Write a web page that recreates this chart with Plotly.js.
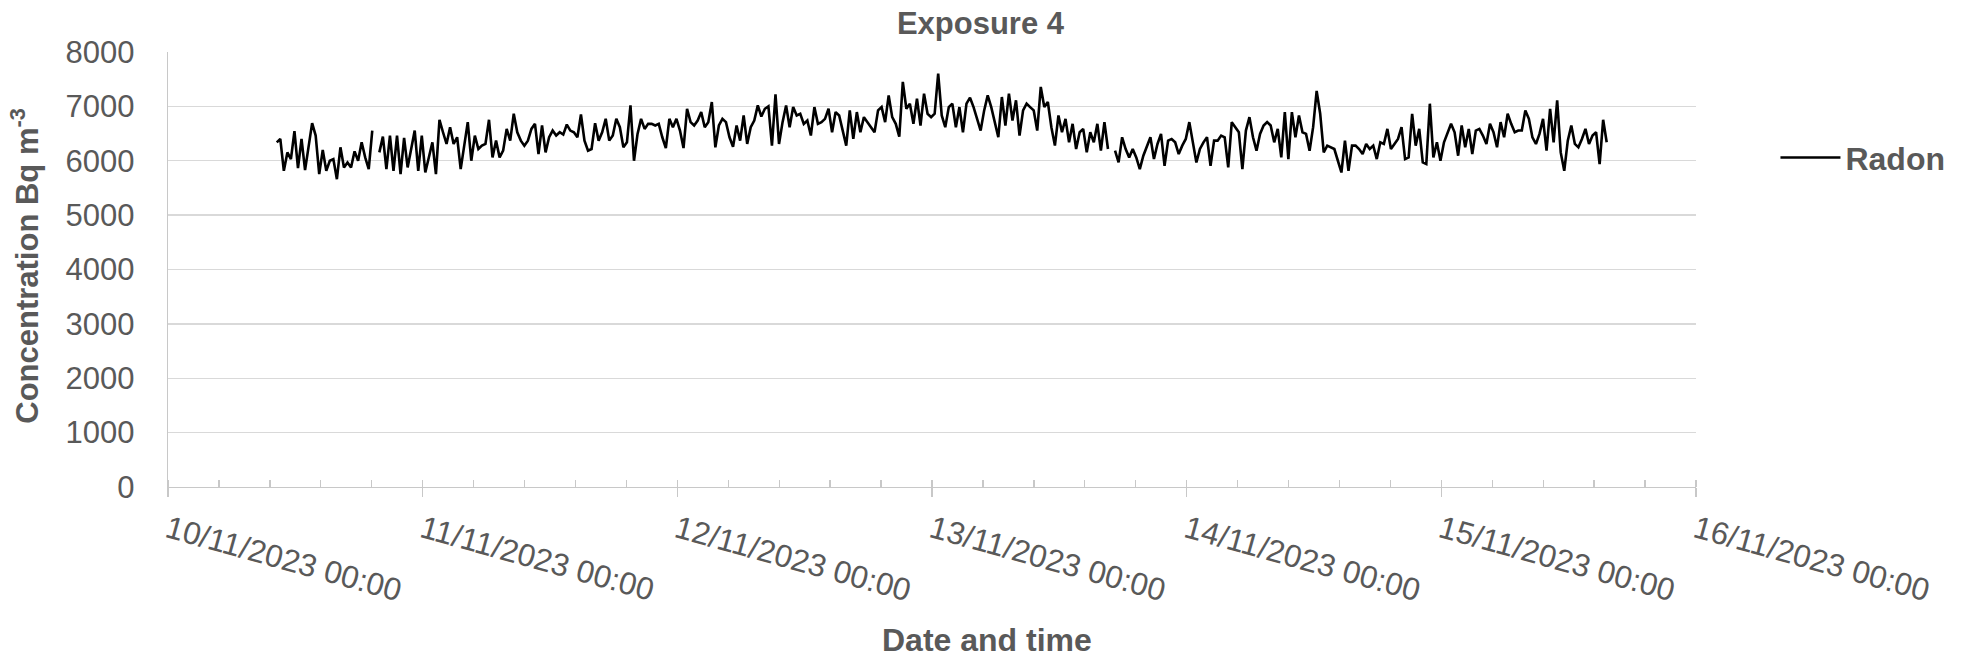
<!DOCTYPE html>
<html>
<head>
<meta charset="utf-8">
<script src="https://cdn.plot.ly/plotly-3.0.1.min.js"></script>
<style>
  html, body { margin: 0; padding: 0; background: #ffffff; }
  #chart { width: 1966px; height: 658px; }
</style>
</head>
<body>
<div id="chart"></div>
<script>
// ---- Data ----
const seriesName = 'Radon';
const startTime = '2023-11-10T10:15:00';   // first reading
const stepMinutes = 20;                    // sampling interval used for the readings
// Radon concentration, Bq m-3 (null = missing reading)
const radon = [
  6339, 6401, 5815, 6154, 6031, 6543, 5864, 6401, 5827, 6247,
  6691, 6463, 5753, 6197, 5815, 6000, 6031, 5661, 6247, 5877,
  5969, 5877, 6173, 6000, 6339, 6062, 5846, 6555, null, 6154,
  6444, 5846, 6463, 5815, 6463, 5753, 6420, 5877, 6185, 6555,
  5815, 6463, 5784, 6062, 6339, 5753, 6753, 6524, 6309, 6617,
  6309, 6432, 5846, 6278, 6710, 6000, 6463, 6216, 6278, 6309,
  6753, 6062, 6370, 6062,
  6185, 6586, 6370, 6864, 6524, 6370, 6278, 6370, 6586, 6679,
  6123, 6648, 6154, 6432, 6555, 6463, 6524, 6481, 6666, 6555,
  6524, 6432, 6851, 6370, 6185, 6216, 6691, 6370, 6524, 6771,
  6370, 6463, 6771, 6617, 6247, 6339, 7018, 6000, 6494, 6771,
  6586, 6679, 6679, 6648, 6679, 6432, 6234, 6771, 6617, 6771,
  6555, 6234, 6956, 6710, 6648, 6740, 6895, 6617, 6710, 7080,
  6247, 6648,
  6771, 6710, 6432, 6259, 6648, 6370, 6833, 6309, 6617, 6740,
  7018, 6814, 6956, 7000, 6278, 7222, 6309, 6710, 7018, 6617,
  6987, 6833, 6864, 6679, 6740, 6463, 6987, 6679, 6710, 6771,
  6956, 6524, 6895, 6833, 6555, 6278, 6926, 6401, 6895, 6524,
  6802, 6710, 6617, 6524, 6926, 6987, 6710, 7203, 6802, 6679,
  6444, 7450, 6956, 7049, 6679, 7141, 6648, 7234, 6864, 6802,
  6864, 7604,
  6833, 6617, 6987, 7049, 6617, 6987, 6524, 7049, 7160, 6987,
  6771, 6555, 6926, 7203, 6987, 6710, 6432, 7172, 6648, 7234,
  6740, 7111, 6463, 6926, 7049, 6987, 6926, 6555, 7357, 6987,
  7080, 6617, 6278, 6833, 6524, 6771, 6339, 6679, 6216, 6524,
  6586, 6154, 6524, 6339, 6679, 6185, 6710, 6216, null, 6185,
  5969, 6432, 6216, 6062, 6216, 6062, 5846, 6093, 6247, 6432,
  6031, 6309,
  6494, 5907, 6370, 6401, 6339, 6123, 6278, 6401, 6710, 6370,
  5969, 6216, 6339, 6432, 5907, 6370, 6370, 6463, 6432, 5877,
  6710, 6617, 6524, 5846, 6555, 6802, 6432, 6185, 6494, 6648,
  6710, 6648, 6339, 6586, 6062, 6895, 6031, 6895, 6432, 6833,
  6524, 6494, 6185, 6617, 7283, 6864, 6154, 6278, 6247, 6216,
  6000, 5784, 6370, 5815, 6278, 6278, 6216, 6123, 6309, 6216,
  6278, 6031, 6339,
  6309, 6586, 6216, 6309, 6401, 6617, 6031, 6062, 6864, 6278,
  6586, 5969, 5938, 7049, 6062, 6339, 6000, 6339, 6494, 6679,
  6524, 6093, 6648, 6247, 6586, 6123, 6555, 6586, 6463, 6309,
  6679, 6524, 6247, 6710, 6432, 6864, 6679, 6524, 6555, 6555,
  6926, 6771, 6432, 6309, 6494, 6771, 6185, 6956, 6339, 7111,
  6154, 5815, 6370, 6648, 6309, 6247, 6401, 6586, 6309, 6463,
  6524, 5938, 6753, 6339
];
const xRange = ['2023-11-10 00:00', '2023-11-16 00:00'];
const yTicks = [0, 1000, 2000, 3000, 4000, 5000, 6000, 7000, 8000];
const chartTitle = 'Exposure 4';
const xTitle = 'Date and time';
const yTitle = 'Concentration Bq m<sup>-3</sup>';

// ---- Build timestamps for the readings ----
function pad(n) { return (n < 10 ? '0' : '') + n; }
const t0 = new Date(startTime + 'Z').getTime();
const times = radon.map((_, i) => {
  const d = new Date(t0 + i * stepMinutes * 60000);
  return d.getUTCFullYear() + '-' + pad(d.getUTCMonth() + 1) + '-' + pad(d.getUTCDate()) +
    ' ' + pad(d.getUTCHours()) + ':' + pad(d.getUTCMinutes());
});

const FONT = 'Liberation Sans, Arial, Helvetica, sans-serif';
const GREY = '#595959';
const DAY = 86400000;

const trace = {
  type: 'scatter',
  mode: 'lines',
  x: times,
  y: radon,
  name: seriesName,
  connectgaps: false,
  line: { color: '#000000', width: 2.6 },
  hoverinfo: 'x+y'
};

const layout = {
  width: 1966,
  height: 658,
  paper_bgcolor: '#ffffff',
  plot_bgcolor: '#ffffff',
  margin: { l: 168, r: 270, t: 52, b: 170.5, pad: 0 },
  font: { family: FONT, color: GREY, size: 30 },
  title: {
    text: chartTitle,
    font: { family: FONT, size: 31, color: GREY, weight: 'bold' },
    x: 0.4987, xanchor: 'center', xref: 'container',
    y: 1 - 23 / 658, yanchor: 'middle', yref: 'container'
  },
  showlegend: true,
  legend: {
    x: 1.052, xanchor: 'left',
    y: 0.757, yanchor: 'middle',
    bgcolor: 'rgba(0,0,0,0)',
    borderwidth: 0,
    itemwidth: 60,
    font: { family: FONT, size: 32, color: GREY, weight: 'bold' }
  },
  xaxis: {
    type: 'date',
    range: xRange,
    dtick: DAY,
    tick0: '2023-11-10 00:00',
    tickformat: '%d/%m/%Y %H:%M',
    tickangle: 15.5,
    tickfont: { family: FONT, size: 31.5, color: GREY },
    ticks: 'outside',
    ticklen: 9,
    tickwidth: 1.3,
    tickcolor: '#c8c8c8',
    ticklabelstandoff: 2,
    minor: { dtick: DAY / 5, ticks: 'inside', ticklen: 7, tickwidth: 1.3, tickcolor: '#c8c8c8', showgrid: false },
    showgrid: false,
    showline: true,
    linecolor: '#c8c8c8',
    linewidth: 1.3,
    zeroline: false,
    automargin: false,
    fixedrange: true
  },
  yaxis: {
    range: [0, 8000],
    tickvals: yTicks,
    tickfont: { family: FONT, size: 31, color: GREY },
    ticks: '',
    ticklabelstandoff: 26,
    showgrid: true,
    gridcolor: '#d9d9d9',
    gridwidth: 1.3,
    showline: true,
    linecolor: '#c8c8c8',
    linewidth: 1.3,
    zeroline: false,
    automargin: false,
    fixedrange: true
  },
  annotations: [
    {
      text: yTitle,
      textangle: -90,
      xref: 'paper', yref: 'paper',
      x: (25 - 168) / 1528, xanchor: 'center',
      y: (487.5 - 266) / 435.5, yanchor: 'middle',
      showarrow: false,
      font: { family: FONT, size: 31, color: GREY, weight: 'bold' }
    },
    {
      text: xTitle,
      xref: 'paper', yref: 'paper',
      x: (987 - 168) / 1528, xanchor: 'center',
      y: (487.5 - 641) / 435.5, yanchor: 'middle',
      showarrow: false,
      font: { family: FONT, size: 32, color: GREY, weight: 'bold' }
    }
  ]
};

Plotly.newPlot('chart', [trace], layout, { staticPlot: true, displayModeBar: false });
</script>
</body>
</html>
